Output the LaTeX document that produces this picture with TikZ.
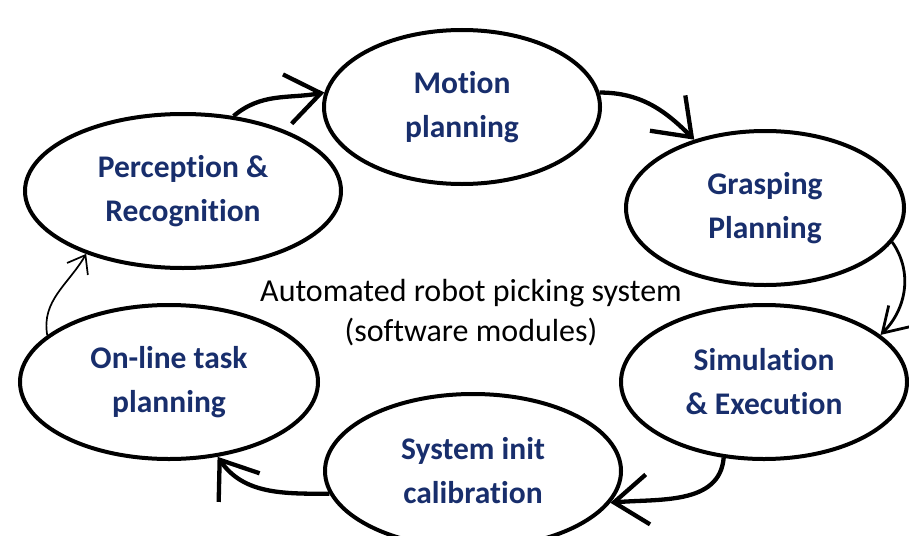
\documentclass[tikz,border=0pt]{standalone}
\usepackage{fontspec}
\setmainfont{Carlito}[Ligatures=NoCommon]
\usetikzlibrary{shapes.geometric,arrows.meta}
\definecolor{labelblue}{RGB}{24,46,108}
\begin{document}
\begin{tikzpicture}[x=1pt,y=-1pt,
  module/.style={draw=black, line width=4pt, ellipse, inner sep=0pt,
    align=center, text=labelblue, font=\fontsize{31.5}{44}\selectfont\bfseries},
  bigarrow/.style={line width=4.3pt, -{Straight Barb[length=34pt,width=50pt,line width=4.3pt]}},
  midarrow/.style={line width=2.8pt, -{Straight Barb[length=24pt,width=30pt,line width=2.8pt]}},
  thinarrow/.style={line width=1.7pt, -{Straight Barb[length=16pt,width=24pt,line width=1.7pt]}}
]
\clip (0,0) rectangle (909,535);
\fill[white] (0,0) rectangle (909,535);

\node[module, minimum width=276pt, minimum height=154pt] (mot) at (462,107) {Motion\\planning};
\node[module, minimum width=316pt, minimum height=154pt] (perc) at (183,191) {Perception \&\\Recognition};
\node[module, minimum width=278pt, minimum height=154pt] (grasp) at (765,208) {Grasping\\Planning};
\node[module, minimum width=286pt, minimum height=154pt] (sim) at (764,382) {Simulation\\\& Execution};
\node[module, minimum width=296pt, minimum height=154pt] (sys) at (473,471) {System init\\calibration};
\node[module, minimum width=298pt, minimum height=154pt] (onl) at (169,382) {On-line task\\planning};

\node[align=center, font=\fontsize{32}{40}\selectfont] (ctr) at (471,313) {Automated robot picking system\\(software modules)};

\draw[bigarrow] (perc.56) to[out=40,in=190] (mot.174);
\draw[bigarrow] (mot.6) to[out=0,in=135] (grasp.136);
\draw[midarrow] (grasp.-15) to[out=-55,in=45] (sim.22);
\draw[bigarrow] (sim.-118) to[out=-95,in=5] (sys.-13);
\draw[bigarrow] (sys.189) to[out=180,in=-55] (onl.-57);
\draw[thinarrow] (onl.159) to[out=100,in=-120] (perc.-147);
\end{tikzpicture}
\end{document}
